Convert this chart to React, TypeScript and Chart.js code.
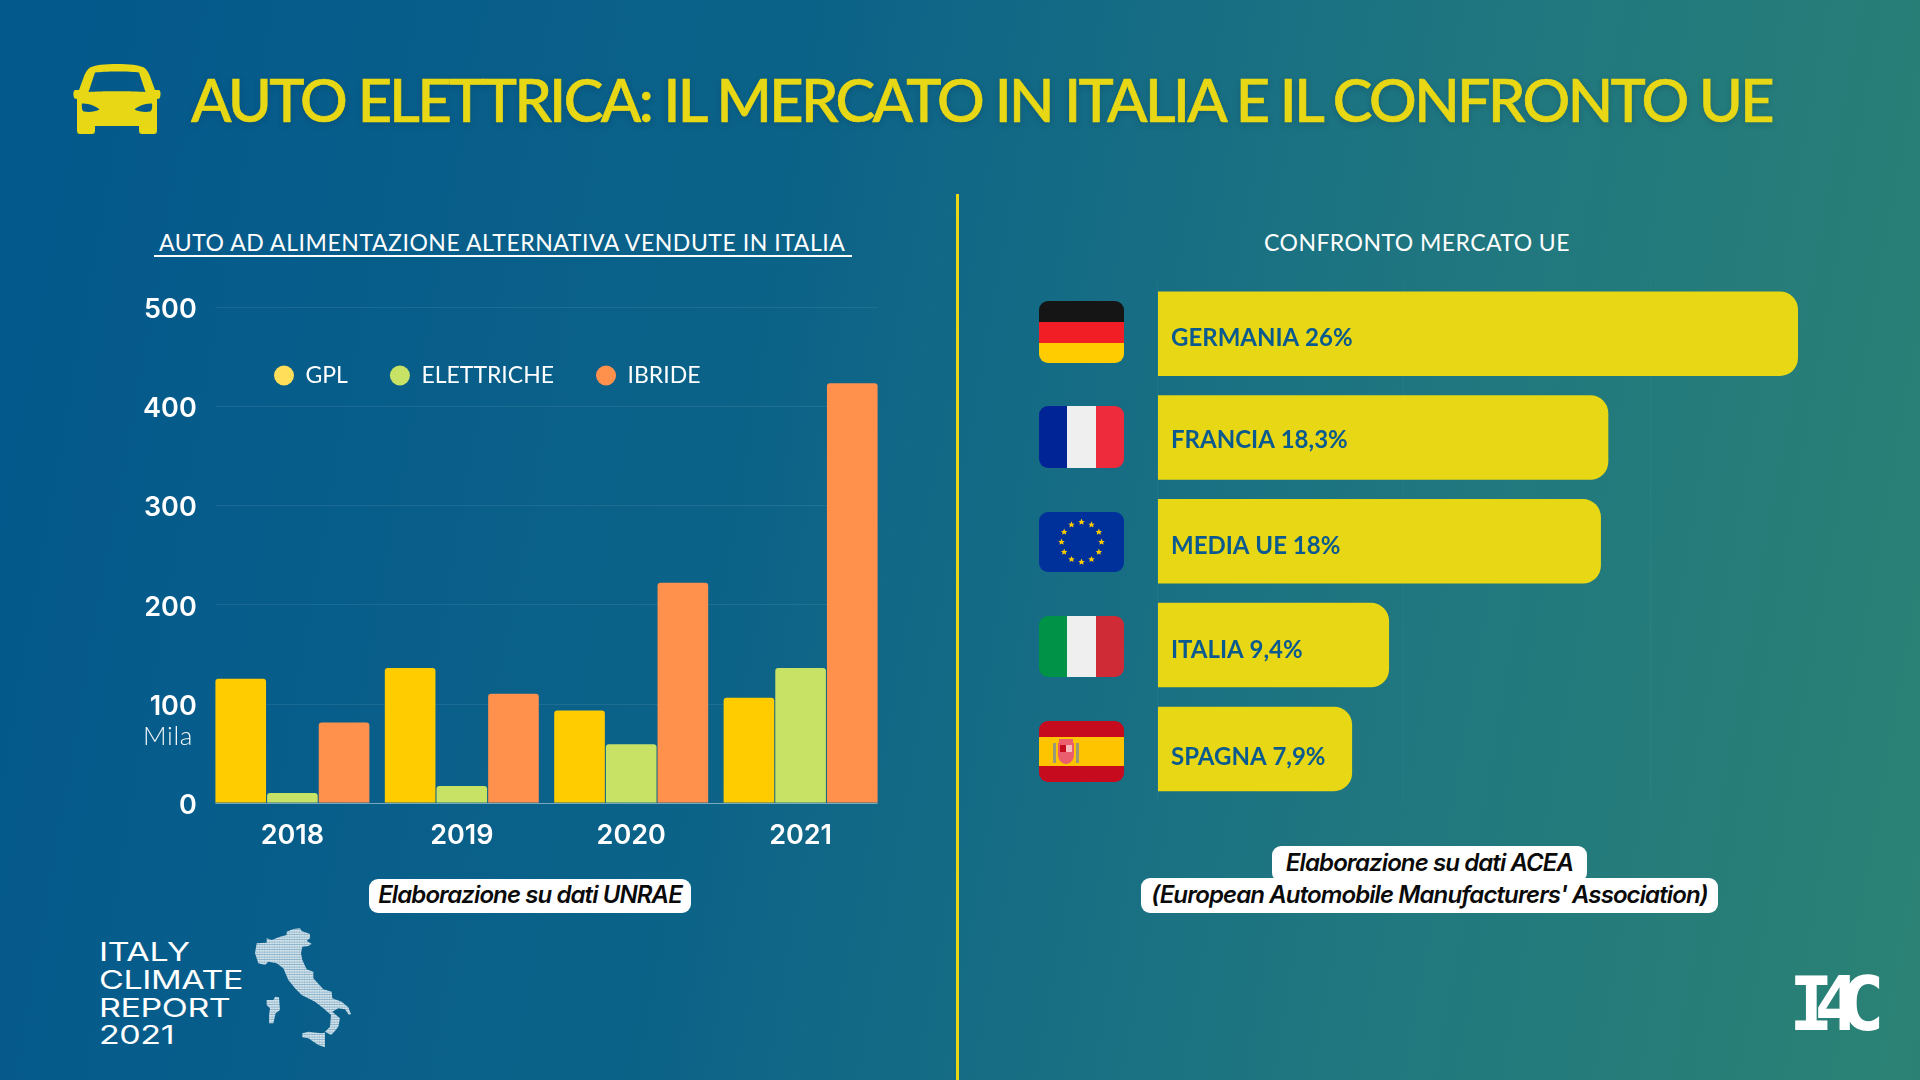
import React, { useEffect, useRef } from "react";
import { Chart, registerables } from "chart.js";

Chart.register(...registerables);

const years = ["2018", "2019", "2020", "2021"];
const gplValues = [125, 136, 93, 106];
const elettricheValues = [10, 17, 59, 136];
const ibrideValues = [81, 110, 222, 423];
const seriesNames = ["GPL", "ELETTRICHE", "IBRIDE"];
const seriesColors = ["#ffcc00", "#c8e265", "#ff914d"];
const legendColors = ["#ffde59", "#c8e265", "#ff914d"];

const countries = ["GERMANIA 26%", "FRANCIA 18,3%", "MEDIA UE 18%", "ITALIA 9,4%", "SPAGNA 7,9%"];
const shares = [26, 18.3, 18, 9.4, 7.9];
const labelNudge = [5, 3, 5, 5, 8];

const YELLOW = "#e8d714";
const BLUE_TEXT = "#0b5a8f";
const UI = "Lato, sans-serif";

const barGridPlugin = {
  id: "barGrid",
  beforeDatasetsDraw(chart: any) {
    const first = chart.getDatasetMeta(0).data[0];
    const last = chart.getDatasetMeta(2).data[3];
    const x0 = first.x - first.width / 2;
    const x1 = last.x + last.width / 2;
    const y = chart.scales.y;
    const c = chart.ctx;
    c.save();
    y.ticks.forEach((t: any) => {
      const py = Math.round(y.getPixelForValue(t.value)) + 0.5;
      c.strokeStyle = t.value === 0 ? "rgba(255,255,255,0.45)" : "rgba(255,255,255,0.08)";
      c.lineWidth = 1;
      c.beginPath();
      c.moveTo(x0, py);
      c.lineTo(x1, py);
      c.stroke();
    });
    c.restore();
  },
};

const legendPlacePlugin = {
  id: "legendPlace",
  beforeLayout(chart: any) {
    const legend = chart.legend;
    if (legend.__wrapped) return;
    legend.__wrapped = true;
    const fit = legend.fit;
    legend.fit = function () {
      fit.call(this);
      this.height = 0;
    };
  },
  afterLayout(chart: any) {
    const legend = chart.legend;
    legend.left = 174 - 42;
    legend.right = legend.left + 700;
    legend.top = 42;
    legend.bottom = legend.top + 100;
  },
};

const barLabelPlugin = {
  id: "barLabels",
  afterDatasetsDraw(chart: any) {
    const c = chart.ctx;
    const meta = chart.getDatasetMeta(0);
    c.save();
    c.font = `700 24px ${UI}`;
    c.fillStyle = BLUE_TEXT;
    c.textAlign = "left";
    c.textBaseline = "middle";
    meta.data.forEach((el: any, i: number) => {
      c.fillText(countries[i], el.base + 13, el.y + labelNudge[i]);
    });
    c.restore();
  },
};

function LeftChart() {
  const ref = useRef<HTMLCanvasElement>(null);
  useEffect(() => {
    const chart = new Chart(ref.current!, {
      type: "bar",
      data: {
        labels: years,
        datasets: [gplValues, elettricheValues, ibrideValues].map((d, i) => ({
          label: seriesNames[i],
          data: d,
          backgroundColor: seriesColors[i],
          borderRadius: { topLeft: 3, topRight: 3, bottomLeft: 0, bottomRight: 0 },
          borderSkipped: "bottom",
          barPercentage: 0.98,
          categoryPercentage: 0.915,
        })),
      },
      options: {
        responsive: false,
        animation: false,
        devicePixelRatio: 1,
        layout: { padding: { left: 0, top: 27, right: 34.7, bottom: 0 } },
        plugins: {
          tooltip: { enabled: false },
          title: { display: false },
          legend: {
            position: "top",
            align: "start",
            labels: {
              color: "#ffffff",
              font: { family: UI, size: 23, weight: "400" },
              padding: 42,
              usePointStyle: true,
              boxHeight: 14,
              pointStyleWidth: 20,
              generateLabels: () =>
                seriesNames.map((n, i) => ({
                  text: n,
                  fillStyle: legendColors[i],
                  strokeStyle: legendColors[i],
                  lineWidth: 0,
                  pointStyle: "circle",
                  fontColor: "#ffffff",
                  datasetIndex: i,
                })),
            },
          },
        },
        scales: {
          x: {
            grid: { display: false },
            border: { display: false },
            afterFit(s: any) {
              s.height = 67.2;
            },
            ticks: {
              color: "#ffffff",
              padding: 9,
              font: { family: "Inter, sans-serif", size: 27, weight: "600" },
            },
          },
          y: {
            min: 0,
            max: 500,
            grid: { display: false },
            border: { display: false },
            afterFit(s: any) {
              s.width = 107.7;
            },
            ticks: {
              stepSize: 100,
              color: "#ffffff",
              padding: 3,
              labelOffset: 3,
              font: { family: "Inter, sans-serif", size: 27, weight: "600" },
            },
          },
        },
      },
      plugins: [barGridPlugin, legendPlacePlugin],
    } as any);
    return () => chart.destroy();
  }, []);
  return <canvas ref={ref} width={820} height={590} style={{ position: "absolute", left: 100, top: 280 }} />;
}

function RightChart() {
  const ref = useRef<HTMLCanvasElement>(null);
  useEffect(() => {
    const chart = new Chart(ref.current!, {
      type: "bar",
      data: {
        labels: countries,
        datasets: [
          {
            data: shares,
            backgroundColor: YELLOW,
            barPercentage: 0.814,
            categoryPercentage: 1,
            borderSkipped: false,
            borderRadius: { topLeft: 0, bottomLeft: 0, topRight: 18, bottomRight: 18 },
          },
        ],
      },
      options: {
        indexAxis: "y",
        responsive: false,
        animation: false,
        devicePixelRatio: 1,
        layout: { padding: { left: 57.5, top: 11.8, right: 62, bottom: 9.2 } },
        plugins: { legend: { display: false }, tooltip: { enabled: false } },
        scales: {
          y: { display: false },
          x: {
            min: 0,
            max: 26,
            border: { display: false },
            grid: {
              color: (ctx: any) => (ctx.tick && ctx.tick.value % 10 === 0 ? "rgba(255,255,255,0.035)" : "transparent"),
              drawTicks: false,
            },
            ticks: { display: false, stepSize: 10 },
          },
        },
      },
      plugins: [barLabelPlugin],
    } as any);
    return () => chart.destroy();
  }, []);
  return <canvas ref={ref} width={760} height={540} style={{ position: "absolute", left: 1100, top: 270 }} />;
}

function Text({ x, y, cx, children, style }: any) {
  const base: React.CSSProperties = {
    position: "absolute",
    top: y,
    whiteSpace: "nowrap",
    lineHeight: 1,
    transform: cx !== undefined ? "translate(-50%,-50%)" : "translateY(-50%)",
    left: cx !== undefined ? cx : x,
  };
  return <div style={{ ...base, ...style }}>{children}</div>;
}

function Pill({ x, y, w, h, children }: any) {
  return (
    <div
      style={{
        position: "absolute",
        left: x,
        top: y,
        width: w,
        height: h,
        boxSizing: "border-box",
        paddingBottom: 3,
        background: "#fff",
        borderRadius: 9,
        color: "#0a0a0a",
        display: "flex",
        alignItems: "center",
        justifyContent: "center",
        whiteSpace: "nowrap",
        font: `italic 600 24px Inter, sans-serif`,
        letterSpacing: -0.9,
      }}
    >
      {children}
    </div>
  );
}

function Flag({ y, h, children }: any) {
  return (
    <svg
      width={85}
      height={h}
      viewBox={`0 0 85 ${h}`}
      style={{ position: "absolute", left: 1039, top: y, borderRadius: 9 }}
    >
      {children}
    </svg>
  );
}

const euStars = Array.from({ length: 12 }, (_, i) => i);

function Star({ cx, cy }: any) {
  return (
    <polygon
      transform={`translate(${cx},${cy}) scale(3.4)`}
      fill="#ffcc00"
      points="0,-1 0.29,-0.31 0.95,-0.31 0.47,0.12 0.59,0.81 0,0.45 -0.59,0.81 -0.47,0.12 -0.95,-0.31 -0.29,-0.31"
    />
  );
}

function CarIcon() {
  return (
    <svg width={88} height={70} viewBox="0 0 88 70" style={{ position: "absolute", left: 73, top: 64 }}>
      <path
        fill={YELLOW}
        fillRule="evenodd"
        d="M44 0C32 0 22 1 17 3.5C14.5 5 13 8 11.5 11L6 26L2 26C0 26.5 0 32 1.5 34.5L4 35L4 66C4 69 5 70 7 70L19 70C21 70 22 69 22 66L22 62L66 62L66 66C66 69 67 70 69 70L81 70C83 70 84 69 84 66L84 35L86.5 34.5C88 32 88 26.5 86 26L82 26L76.5 11C75 8 73.5 5 71 3.5C66 1 56 0 44 0ZM22 8.5C30 7 58 7 66 8.5L72.5 28C60 27 28 27 15.5 28ZM9 39.5C15 39 23 42 26.5 45.5C23 47.5 16 48.5 11 47.5C9 47 8.5 43 9 39.5ZM79 39.5C73 39 65 42 61.5 45.5C65 47.5 72 48.5 77 47.5C79 47 79.5 43 79 39.5Z"
      />
    </svg>
  );
}

function ItalyMap() {
  return (
    <svg width={115} height={135} viewBox="0 0 345 405" style={{ position: "absolute", left: 245, top: 920 }}>
      <defs>
        <pattern id="dots" width="7.5" height="7.5" patternUnits="userSpaceOnUse">
          <rect width="7.5" height="7.5" fill="#86aec6" />
          <rect width="6.5" height="5.2" fill="#d6e6ed" />
        </pattern>
      </defs>
      <path
        fill="url(#dots)"
        d="M125 35L145 27L165 25L170 33L195 42L195 55L185 62L200 72L190 78L172 80L168 100L172 120L185 148L205 155L205 175L235 208L260 215L262 235L290 245L310 262L318 282L312 285L300 268L280 265L262 275L285 295L280 320L268 335L258 345L240 335L255 320L258 285L235 265L210 245L170 225L150 205L130 180L115 145L95 130L70 125L60 135L40 130L30 100L35 70L65 68L65 55L80 60L105 50L125 45Z
           M65 240L85 240L90 230L102 232L105 270L92 280L85 310L72 310L72 285L75 265L65 255Z
           M172 340L190 335L228 340L240 338L240 382L220 375L190 355L172 352Z"
      />
    </svg>
  );
}

function BodyReset() {
  useEffect(() => {
    document.body.style.margin = "0";
  }, []);
  return null;
}

export default function App() {
  return (
    <div
      style={{
        position: "fixed",
        left: 0,
        top: 0,
        width: 1920,
        height: 1080,
        overflow: "hidden",
        background: "linear-gradient(100deg, #03588c 0%, #0c6388 40%, #1f7680 70%, #2b8274 100%)",
      }}
    >
      <BodyReset />
      <CarIcon />
      <Text
        x={191}
        y={99}
        style={{
          font: "500 59.5px Lato, sans-serif",
          color: YELLOW,
          letterSpacing: -2.61,
          WebkitTextStroke: "0.7px " + YELLOW,
          textShadow: "0 2px 6px rgba(0,40,70,0.25)",
        }}
      >
        AUTO ELETTRICA: IL MERCATO IN ITALIA E IL CONFRONTO UE
      </Text>

      <Text
        x={159}
        y={242}
        style={{
          font: "400 23px Lato, sans-serif",
          color: "#fff",
          letterSpacing: 0.55,
        }}
      >
        AUTO AD ALIMENTAZIONE ALTERNATIVA VENDUTE IN ITALIA
      </Text>
      <div style={{ position: "absolute", left: 154, top: 255, width: 698, height: 2, background: "#fff" }} />
      <Text cx={1417} y={242} style={{ font: "400 23px Lato, sans-serif", color: "#fff", letterSpacing: 0.45 }}>
        CONFRONTO MERCATO UE
      </Text>

      <div style={{ position: "absolute", left: 956, top: 194, width: 3, height: 886, background: YELLOW }} />

      <LeftChart />
      <RightChart />

      <Text x={143} y={735} style={{ font: "300 26px Lato, sans-serif", color: "#f2f6f8", letterSpacing: 0.6 }}>
        Mila
      </Text>

      <Pill x={369} y={879} w={322} h={34}>
        Elaborazione su dati UNRAE
      </Pill>
      <Pill x={1272} y={846} w={315} h={36}>
        Elaborazione su dati ACEA
      </Pill>
      <Pill x={1141} y={878} w={577} h={35}>
        (European Automobile Manufacturers' Association)
      </Pill>

      <Flag y={301} h={62}>
        <rect width="85" height="21" fill="#151515" />
        <rect y="21" width="85" height="21" fill="#f11e26" />
        <rect y="42" width="85" height="20" fill="#ffcc00" />
      </Flag>
      <Flag y={406} h={62}>
        <rect width="28" height="62" fill="#002496" />
        <rect x="28" width="29" height="62" fill="#efefef" />
        <rect x="57" width="28" height="62" fill="#ee2b3c" />
      </Flag>
      <Flag y={512} h={60}>
        <rect width="85" height="60" fill="#00309a" />
        {euStars.map((i) => (
          <Star
            key={i}
            cx={42.5 + 20 * Math.sin((i * Math.PI) / 6)}
            cy={30 - 20 * Math.cos((i * Math.PI) / 6)}
          />
        ))}
      </Flag>
      <Flag y={616} h={61}>
        <rect width="28" height="61" fill="#009246" />
        <rect x="28" width="29" height="61" fill="#efefef" />
        <rect x="57" width="28" height="61" fill="#ce2b37" />
      </Flag>
      <Flag y={721} h={61}>
        <rect width="85" height="61" fill="#c60b1e" />
        <rect y="16" width="85" height="29" fill="#ffc400" />
        <rect x="14" y="22" width="3" height="20" fill="#9a9a7a" />
        <rect x="37" y="22" width="3" height="20" fill="#9a9a7a" />
        <path d="M19 22H35V34C35 40 30 43 27 43C24 43 19 40 19 34Z" fill="#ea5e6e" />
        <rect x="21" y="24" width="6" height="7" fill="#c60b1e" />
        <rect x="27" y="24" width="6" height="7" fill="#f7b9b9" />
        <rect x="20" y="18" width="14" height="4" fill="#ea5e6e" />
      </Flag>

      <div
        style={{
          position: "absolute",
          left: 99,
          top: 939,
          color: "#fff",
          font: "400 25px/27.8px Inter, sans-serif",
          transform: "scaleX(1.36)",
          transformOrigin: "0 0",
          letterSpacing: -0.3,
        }}
      >
        ITALY
        <br />
        CLIMATE
        <br />
        REPORT
        <br />
        2021
      </div>
      <ItalyMap />

      <svg width={110} height={70} style={{ position: "absolute", left: 1790, top: 969 }}>
        <text
          x="-1"
          y="61"
          fill="#fff"
          style={{ font: "700 74px 'DejaVu Sans Mono', monospace", letterSpacing: -19 }}
        >
          I4C
        </text>
      </svg>
    </div>
  );
}
